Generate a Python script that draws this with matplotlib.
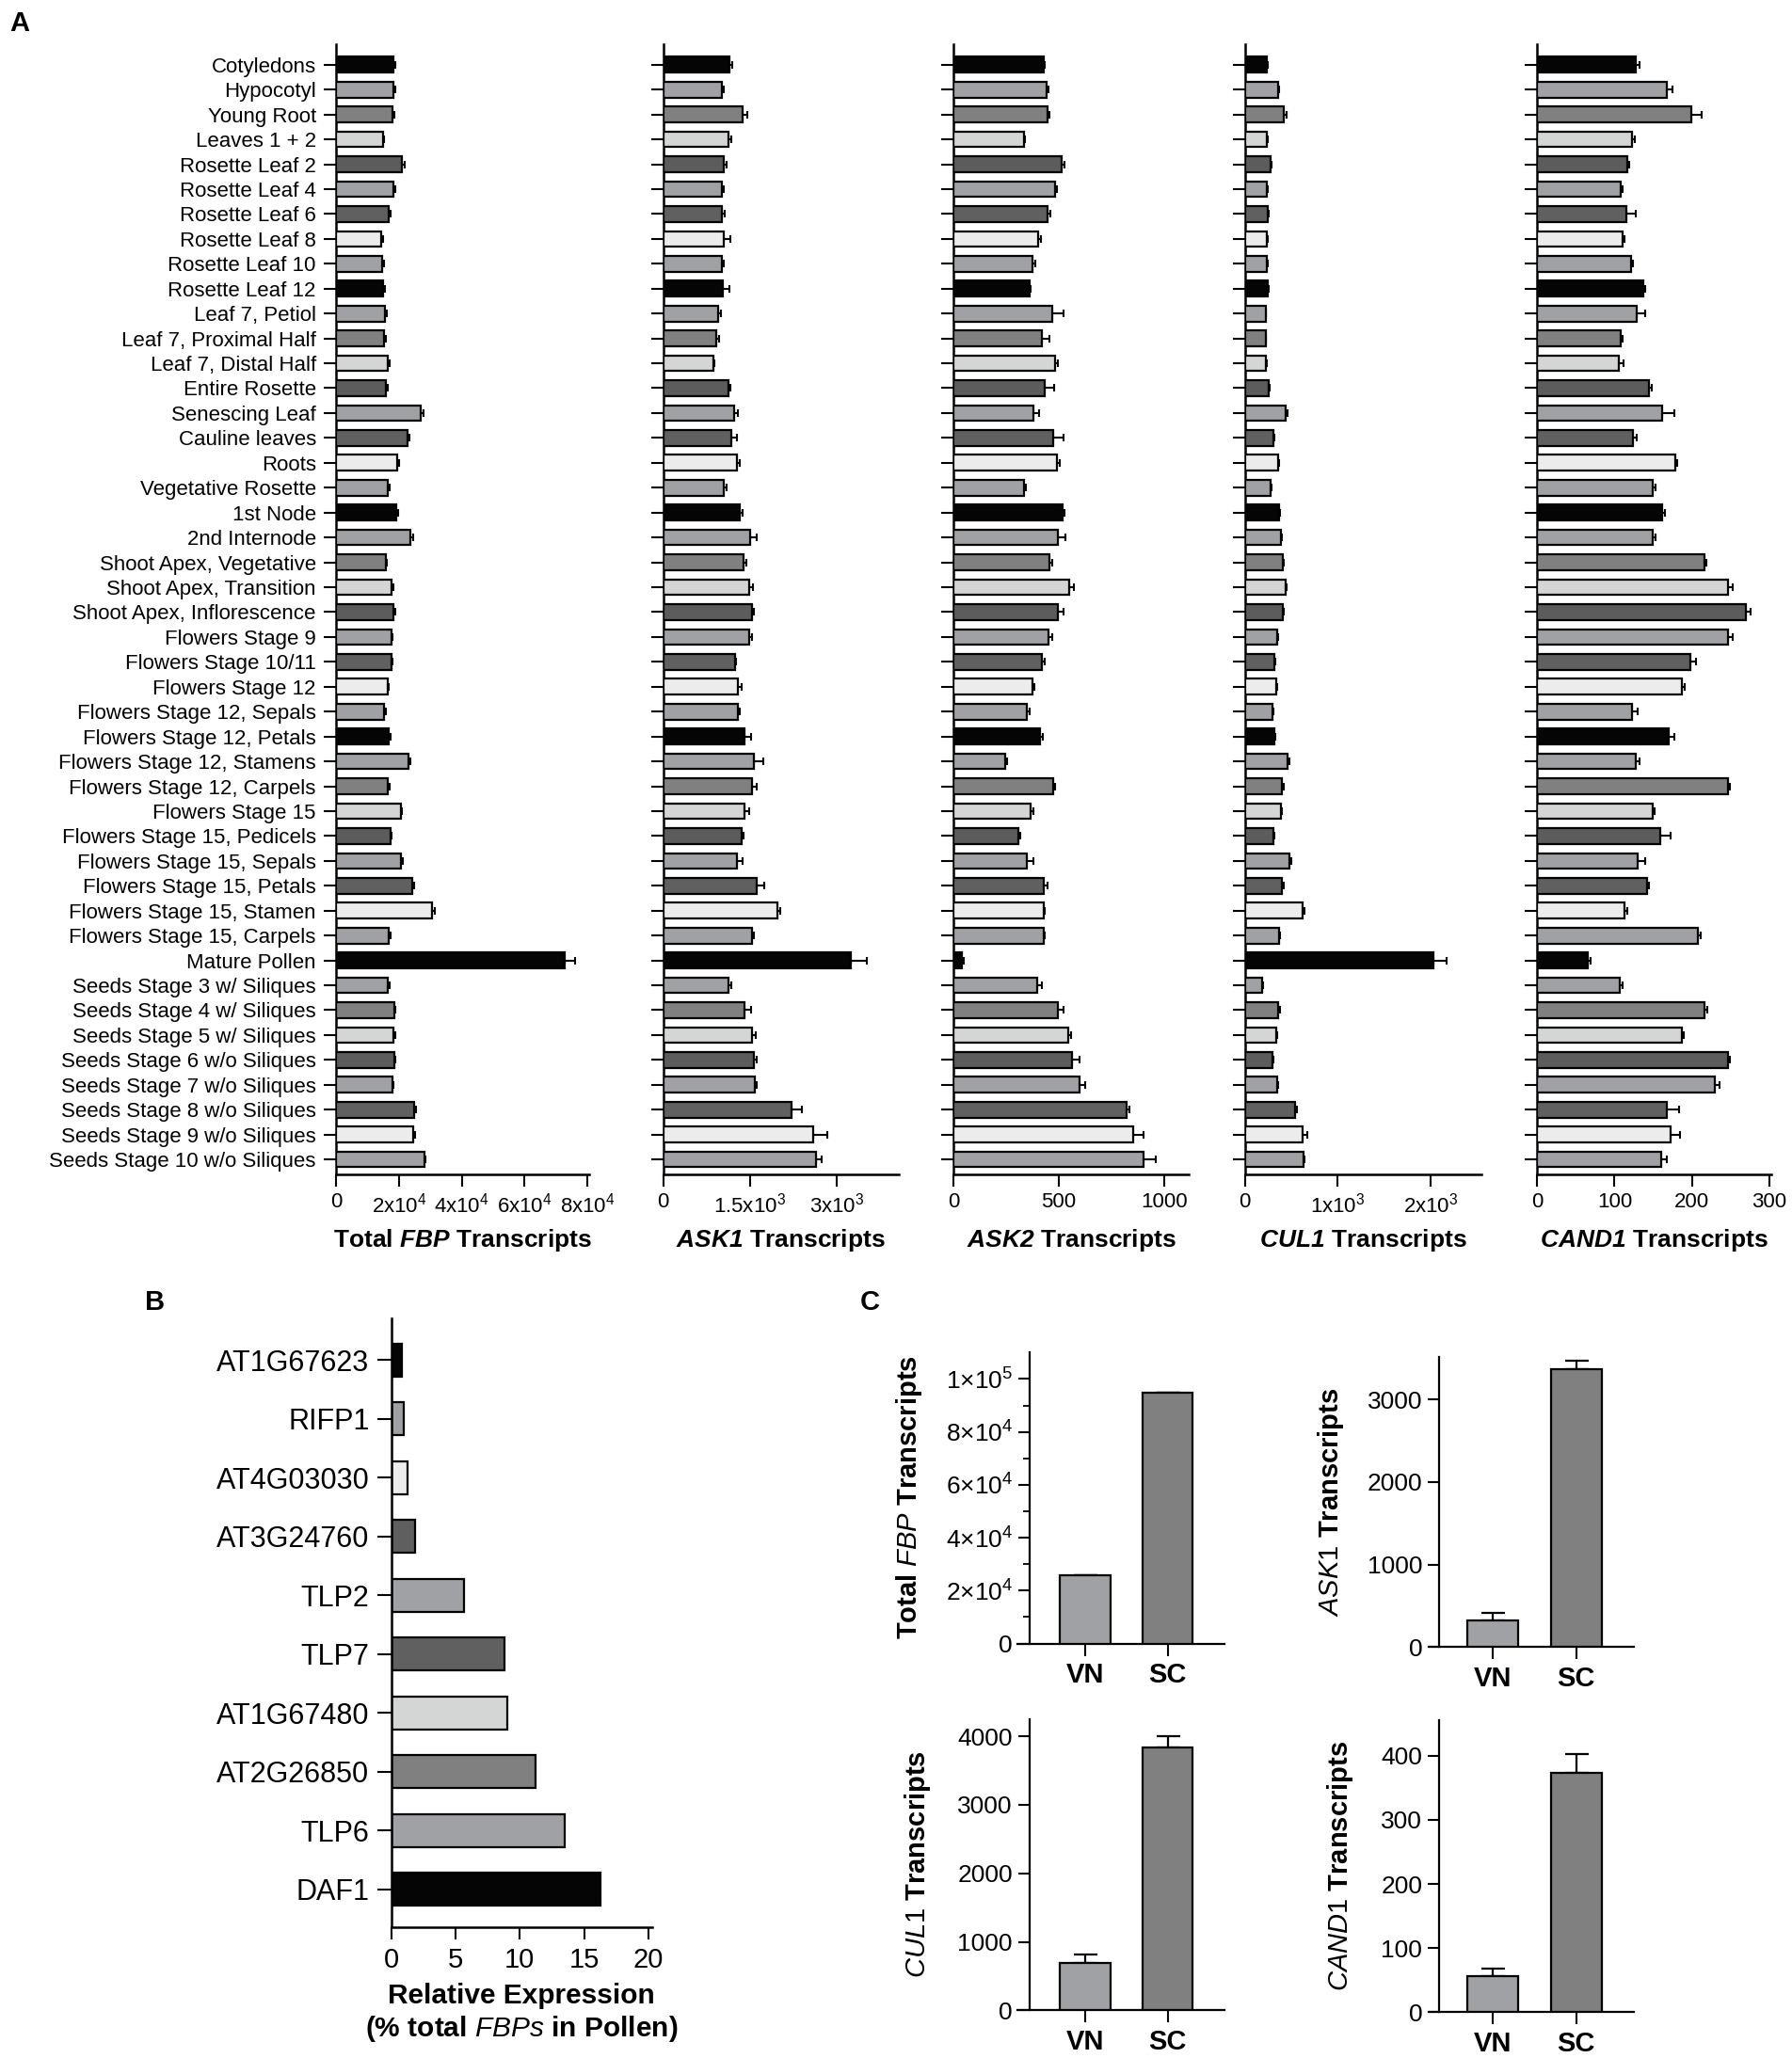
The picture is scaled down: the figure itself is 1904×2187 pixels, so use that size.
import matplotlib
matplotlib.use('Agg')
import matplotlib.pyplot as plt
import numpy as np

plt.rcParams['font.family'] = ['Liberation Sans', 'DejaVu Sans']
plt.rcParams['mathtext.fontset'] = 'custom'
plt.rcParams['mathtext.rm'] = 'Liberation Sans'
plt.rcParams['mathtext.it'] = 'Liberation Sans:italic'
plt.rcParams['mathtext.bf'] = 'Liberation Sans:bold'
plt.rcParams['mathtext.sf'] = 'Liberation Sans:italic:bold'

# ---------------- data, panel A ----------------
tissues = ["Cotyledons", "Hypocotyl", "Young Root", "Leaves 1 + 2", "Rosette Leaf 2",
           "Rosette Leaf 4", "Rosette Leaf 6", "Rosette Leaf 8", "Rosette Leaf 10",
           "Rosette Leaf 12", "Leaf 7, Petiol", "Leaf 7, Proximal Half", "Leaf 7, Distal Half",
           "Entire Rosette", "Senescing Leaf", "Cauline leaves", "Roots", "Vegetative Rosette",
           "1st Node", "2nd Internode", "Shoot Apex, Vegetative", "Shoot Apex, Transition",
           "Shoot Apex, Inflorescence", "Flowers Stage 9", "Flowers Stage 10/11",
           "Flowers Stage 12", "Flowers Stage 12, Sepals", "Flowers Stage 12, Petals",
           "Flowers Stage 12, Stamens", "Flowers Stage 12, Carpels", "Flowers Stage 15",
           "Flowers Stage 15, Pedicels", "Flowers Stage 15, Sepals", "Flowers Stage 15, Petals",
           "Flowers Stage 15, Stamen", "Flowers Stage 15, Carpels", "Mature Pollen",
           "Seeds Stage 3 w/ Siliques", "Seeds Stage 4 w/ Siliques", "Seeds Stage 5 w/ Siliques",
           "Seeds Stage 6 w/o Siliques", "Seeds Stage 7 w/o Siliques", "Seeds Stage 8 w/o Siliques",
           "Seeds Stage 9 w/o Siliques", "Seeds Stage 10 w/o Siliques"]

# total FBP transcripts (x 1e4)
fbp = [1.82, 1.82, 1.79, 1.49, 2.09, 1.82, 1.67, 1.44, 1.47, 1.49, 1.55, 1.52, 1.65, 1.58,
       2.69, 2.26, 1.94, 1.65, 1.92, 2.36, 1.57, 1.75, 1.82,
       1.75, 1.75, 1.63, 1.53, 1.67, 2.29, 1.65, 2.05, 1.72, 2.06, 2.43, 3.06, 1.67, 7.29,
       1.64, 1.84, 1.82, 1.84, 1.78, 2.49, 2.46, 2.80]
fbp_err = [0.05, 0.05, 0.05, 0.04, 0.08, 0.05, 0.05, 0.04, 0.05, 0.05, 0.06, 0.05, 0.05, 0.06,
           0.10, 0.08, 0.05, 0.05, 0.05, 0.08, 0.05, 0.06, 0.05,
           0.05, 0.05, 0.05, 0.05, 0.05, 0.06, 0.04, 0.05, 0.05, 0.05, 0.06, 0.07, 0.05, 0.31,
           0.05, 0.05, 0.05, 0.05, 0.05, 0.06, 0.05, 0.05]

# ASK1 transcripts (x 1e3)
ask1 = [1.15, 1.01, 1.37, 1.13, 1.05, 1.01, 1.01, 1.05, 1.01, 1.03, 0.95, 0.91, 0.86, 1.12,
        1.23, 1.17, 1.28, 1.04, 1.32, 1.50, 1.38, 1.49, 1.53,
        1.49, 1.24, 1.29, 1.29, 1.40, 1.56, 1.53, 1.40, 1.35, 1.27, 1.62, 1.97, 1.53, 3.24,
        1.13, 1.41, 1.54, 1.56, 1.58, 2.22, 2.58, 2.63]
ask1_err = [0.05, 0.04, 0.08, 0.05, 0.04, 0.03, 0.05, 0.11, 0.04, 0.12, 0.04, 0.05, 0.03, 0.04,
            0.06, 0.11, 0.05, 0.05, 0.05, 0.11, 0.06, 0.06, 0.03,
            0.05, 0.02, 0.06, 0.03, 0.11, 0.16, 0.09, 0.08, 0.04, 0.10, 0.12, 0.05, 0.04, 0.27,
            0.05, 0.11, 0.06, 0.05, 0.03, 0.17, 0.25, 0.11]

ask2 = [426, 441, 448, 333, 515, 481, 446, 402, 375, 359, 469, 421, 481, 434, 381, 473, 492,
        333, 519, 494, 455, 547, 497,
        450, 421, 373, 349, 412, 244, 473, 366, 308, 349, 430, 427, 427, 39,
        396, 497, 543, 561, 596, 823, 853, 904]
ask2_err = [8, 8, 8, 5, 12, 12, 14, 14, 14, 8, 53, 34, 16, 44, 25, 50, 12, 8, 8, 35, 12, 23, 23,
            18, 10, 12, 10, 12, 10, 8, 14, 8, 32, 16, 6, 6, 10,
            23, 27, 16, 39, 30, 12, 48, 55]

cul1 = [238, 355, 422, 234, 277, 234, 246, 238, 238, 246, 223, 223, 230, 258, 441, 309, 355,
        277, 371, 387, 406, 441, 406,
        344, 313, 336, 297, 316, 461, 402, 391, 309, 484, 402, 621, 363, 2035,
        188, 359, 336, 297, 348, 543, 621, 629]
cul1_err = [12, 12, 30, 10, 12, 10, 10, 10, 10, 12, 8, 8, 10, 12, 15, 12, 12, 10, 12, 12, 12, 12, 12,
            12, 10, 12, 10, 12, 15, 12, 12, 10, 15, 12, 20, 12, 133,
            10, 15, 12, 12, 12, 20, 55, 15]

cand1 = [127, 168, 199, 122, 116, 108, 115, 110, 121, 137, 129, 108, 106, 145, 161, 124, 178,
         149, 161, 149, 216, 246, 270,
         246, 198, 187, 123, 170, 128, 246, 149, 159, 130, 142, 113, 208, 66,
         107, 216, 187, 246, 229, 167, 173, 160]
cand1_err = [5, 7, 13, 4, 3, 3, 13, 3, 3, 3, 10, 3, 6, 3, 16, 5, 3, 4, 4, 4, 3, 7, 6,
             7, 7, 4, 7, 7, 4, 3, 3, 14, 10, 3, 3, 3, 3,
             4, 4, 3, 3, 7, 16, 11, 7]

# ---------------- data, panel B ----------------
fbp_genes = ["AT1G67623", "RIFP1", "AT4G03030", "AT3G24760", "TLP2", "TLP7",
             "AT1G67480", "AT2G26850", "TLP6", "DAF1"]
pollen_pct = [0.81, 0.95, 1.26, 1.82, 5.61, 8.78, 9.0, 11.2, 13.46, 16.3]

# ---------------- data, panel C ----------------
cells = ["VN", "SC"]
c_fbp = [2.59e4, 9.49e4]
c_fbp_err = [0, 0]
c_ask1 = [325, 3361]
c_ask1_err = [85, 108]
c_cul1 = [696, 3841]
c_cul1_err = [123, 159]
c_cand1 = [56, 374]
c_cand1_err = [12, 29]

# ---------------- styles ----------------
shades = ['#050505', '#a0a1a4', '#808080', '#d4d5d5', '#5c5c5c',
          '#a0a1a4', '#606060', '#ebeceb', '#a0a1a4']
colors_a = [shades[i % 9] for i in range(len(tissues))]
colors_b = ['#050505', '#a0a1a4', '#ebeceb', '#5f5f5f', '#a0a1a4', '#606060',
            '#d4d5d5', '#808080', '#a0a1a4', '#050505']
colors_c = ['#a0a1a4', '#808080']

W, H = 1904, 2187
fig = plt.figure(figsize=(W / 100, H / 100), dpi=100)


def rect(l, r, t, b):
    return [l / W, 1 - b / H, (r - l) / W, (b - t) / H]


def style_axes(ax, lw=1.8):
    for s in ['top', 'right']:
        ax.spines[s].set_visible(False)
    for s in ['left', 'bottom']:
        ax.spines[s].set_linewidth(lw)


def tissue_panel(l, r, vals, errs, xmax, ticks, ticklabels, gene, first):
    ax = fig.add_axes(rect(l, r, 47.1, 1248))
    y = np.arange(len(tissues))
    vals = np.asarray(vals, float)
    errs = np.asarray(errs, float)
    ax.barh(y, vals, height=0.63, color=colors_a, edgecolor='black', linewidth=1.6, zorder=3)
    ax.errorbar(vals, y, xerr=[np.zeros(len(vals)), errs], fmt='none', ecolor='black',
                elinewidth=1.5, capsize=3, capthick=1.5, zorder=2)
    ax.set_ylim(44.6, -0.82)
    ax.set_xlim(0, xmax)
    style_axes(ax)
    ax.set_yticks(y)
    if first:
        ax.set_yticklabels(tissues, fontsize=16)
    else:
        ax.set_yticklabels([])
    ax.set_xticks(ticks)
    ax.set_xticklabels(ticklabels, fontsize=16)
    ax.tick_params(axis='y', length=9.5, width=1.5, pad=6)
    ax.tick_params(axis='x', length=9, width=1.5, pad=5)
    ax.set_xlabel(gene + ' Transcripts', fontsize=19, fontweight='bold')
    ax.xaxis.set_label_coords(0.5, -0.047)
    return ax


tissue_panel(357.3, 626, np.array(fbp) * 1e4, np.array(fbp_err) * 1e4, 8.06e4,
             [0, 2e4, 4e4, 6e4, 8e4],
             ['0', r'2x10$^{4}$', r'4x10$^{4}$', r'6x10$^{4}$', r'8x10$^{4}$'],
             r'Total $\mathsf{FBP}$', True)
tissue_panel(704.5, 954.8, np.array(ask1) * 1e3, np.array(ask1_err) * 1e3, 4060,
             [0, 1500, 3000], ['0', r'1.5x10$^{3}$', r'3x10$^{3}$'],
             r'$\mathsf{ASK1}$', False)
tissue_panel(1013.3, 1263.2, ask2, ask2_err, 1118, [0, 500, 1000], ['0', '500', '1000'],
             r'$\mathsf{ASK2}$', False)
tissue_panel(1322.7, 1573.5, cul1, cul1_err, 2542, [0, 1000, 2000],
             ['0', r'1x10$^{3}$', r'2x10$^{3}$'], r'$\mathsf{CUL1}$', False)
tissue_panel(1633.2, 1882.4, cand1, cand1_err, 303, [0, 100, 200, 300],
             ['0', '100', '200', '300'], r'$\mathsf{CAND1}$', False)

# ---------------- panel B ----------------
axb = fig.add_axes(rect(416, 692.7, 1401, 2048.3))
yb = np.arange(len(fbp_genes))
axb.barh(yb, pollen_pct, height=0.565, color=colors_b, edgecolor='black', linewidth=1.6)
axb.set_ylim(9.65, -0.71)
axb.set_xlim(0, 20.29)
style_axes(axb)
axb.set_yticks(yb)
axb.set_yticklabels(fbp_genes, fontsize=22)
axb.set_xticks([0, 5, 10, 15, 20])
axb.set_xticklabels(['0', '5', '10', '15', '20'], fontsize=21)
axb.tick_params(axis='y', length=11, width=1.5, pad=6)
axb.tick_params(axis='x', length=9, width=1.5, pad=6)
axb.set_xlabel('Relative Expression\n' + r'(% total $\mathit{FBPs}$ in Pollen)',
               fontsize=21.5, fontweight='bold', labelpad=7, linespacing=1.2)

# ---------------- panel C ----------------
def cell_panel(l, r, t, b, x0, xl, xr, vals, errs, ymax, yticks, yticklabels, ylabel, labx):
    ax = fig.add_axes(rect(l, r, t, b))
    xc = np.arange(len(cells))
    ax.bar(xc, vals, width=0.61, color=colors_c, edgecolor='black', linewidth=1.6, zorder=3)
    ax.errorbar(xc, vals, yerr=[np.zeros(len(vals)), errs], fmt='none', ecolor='black',
                elinewidth=1.6, capsize=9, capthick=1.6, zorder=2)
    ax.set_xlim(xl, xr)
    ax.set_ylim(0, ymax)
    style_axes(ax, 1.6)
    ax.spines['left'].set_position(('data', x0))
    ax.set_xticks(xc)
    ax.set_xticklabels(cells, fontsize=21, fontweight='bold')
    ax.set_yticks(yticks)
    ax.set_yticklabels(yticklabels, fontsize=19)
    ax.tick_params(axis='y', length=9, width=1.5, pad=4)
    ax.tick_params(axis='x', length=9, width=1.5, pad=5)
    ax.set_ylabel(ylabel, fontsize=21, fontweight='bold')
    ax.yaxis.set_label_coords(labx, 0.5)
    return ax


ax_c1 = cell_panel(1081.2, 1301.5, 1436.5, 1746.6, -0.672, -0.818, 1.694, c_fbp, c_fbp_err,
                   1.103e5, [0, 2e4, 4e4, 6e4, 8e4, 1e5],
                   ['0', r'2×10$^{4}$', r'4×10$^{4}$', r'6×10$^{4}$', r'8×10$^{4}$', r'1×10$^{5}$'],
                   r'Total $\mathit{FBP}$ Transcripts', -0.45)
ax_c1.set_yticks([1e4, 3e4, 5e4, 7e4, 9e4], minor=True)
ax_c1.tick_params(axis='y', which='minor', length=5, width=1.3)
cell_panel(1517.9, 1735.6, 1441.7, 1750.3, -0.645, -0.775, 1.688, c_ask1, c_ask1_err,
           3517, [0, 1000, 2000, 3000], ['0', '1000', '2000', '3000'],
           r'$\mathit{ASK1}$ Transcripts', -0.404)
cell_panel(1081.2, 1301.5, 1826.7, 2136.3, -0.672, -0.818, 1.694, c_cul1, c_cul1_err,
           4254, [0, 1000, 2000, 3000, 4000], ['0', '1000', '2000', '3000', '4000'],
           r'$\mathit{CUL1}$ Transcripts', -0.411)
cell_panel(1517.9, 1735.6, 1828.3, 2138.4, -0.645, -0.775, 1.688, c_cand1, c_cand1_err,
           455, [0, 100, 200, 300, 400], ['0', '100', '200', '300', '400'],
           r'$\mathit{CAND1}$ Transcripts', -0.358)

# panel letters
fig.text(21 / W, 1 - 25 / H, 'A', fontsize=21, fontweight='bold', ha='center', va='center')
fig.text(165 / W, 1 - 1384 / H, 'B', fontsize=21, fontweight='bold', ha='center', va='center')
fig.text(924 / W, 1 - 1384 / H, 'C', fontsize=21, fontweight='bold', ha='center', va='center')

fig.savefig('out.png', dpi=100)
